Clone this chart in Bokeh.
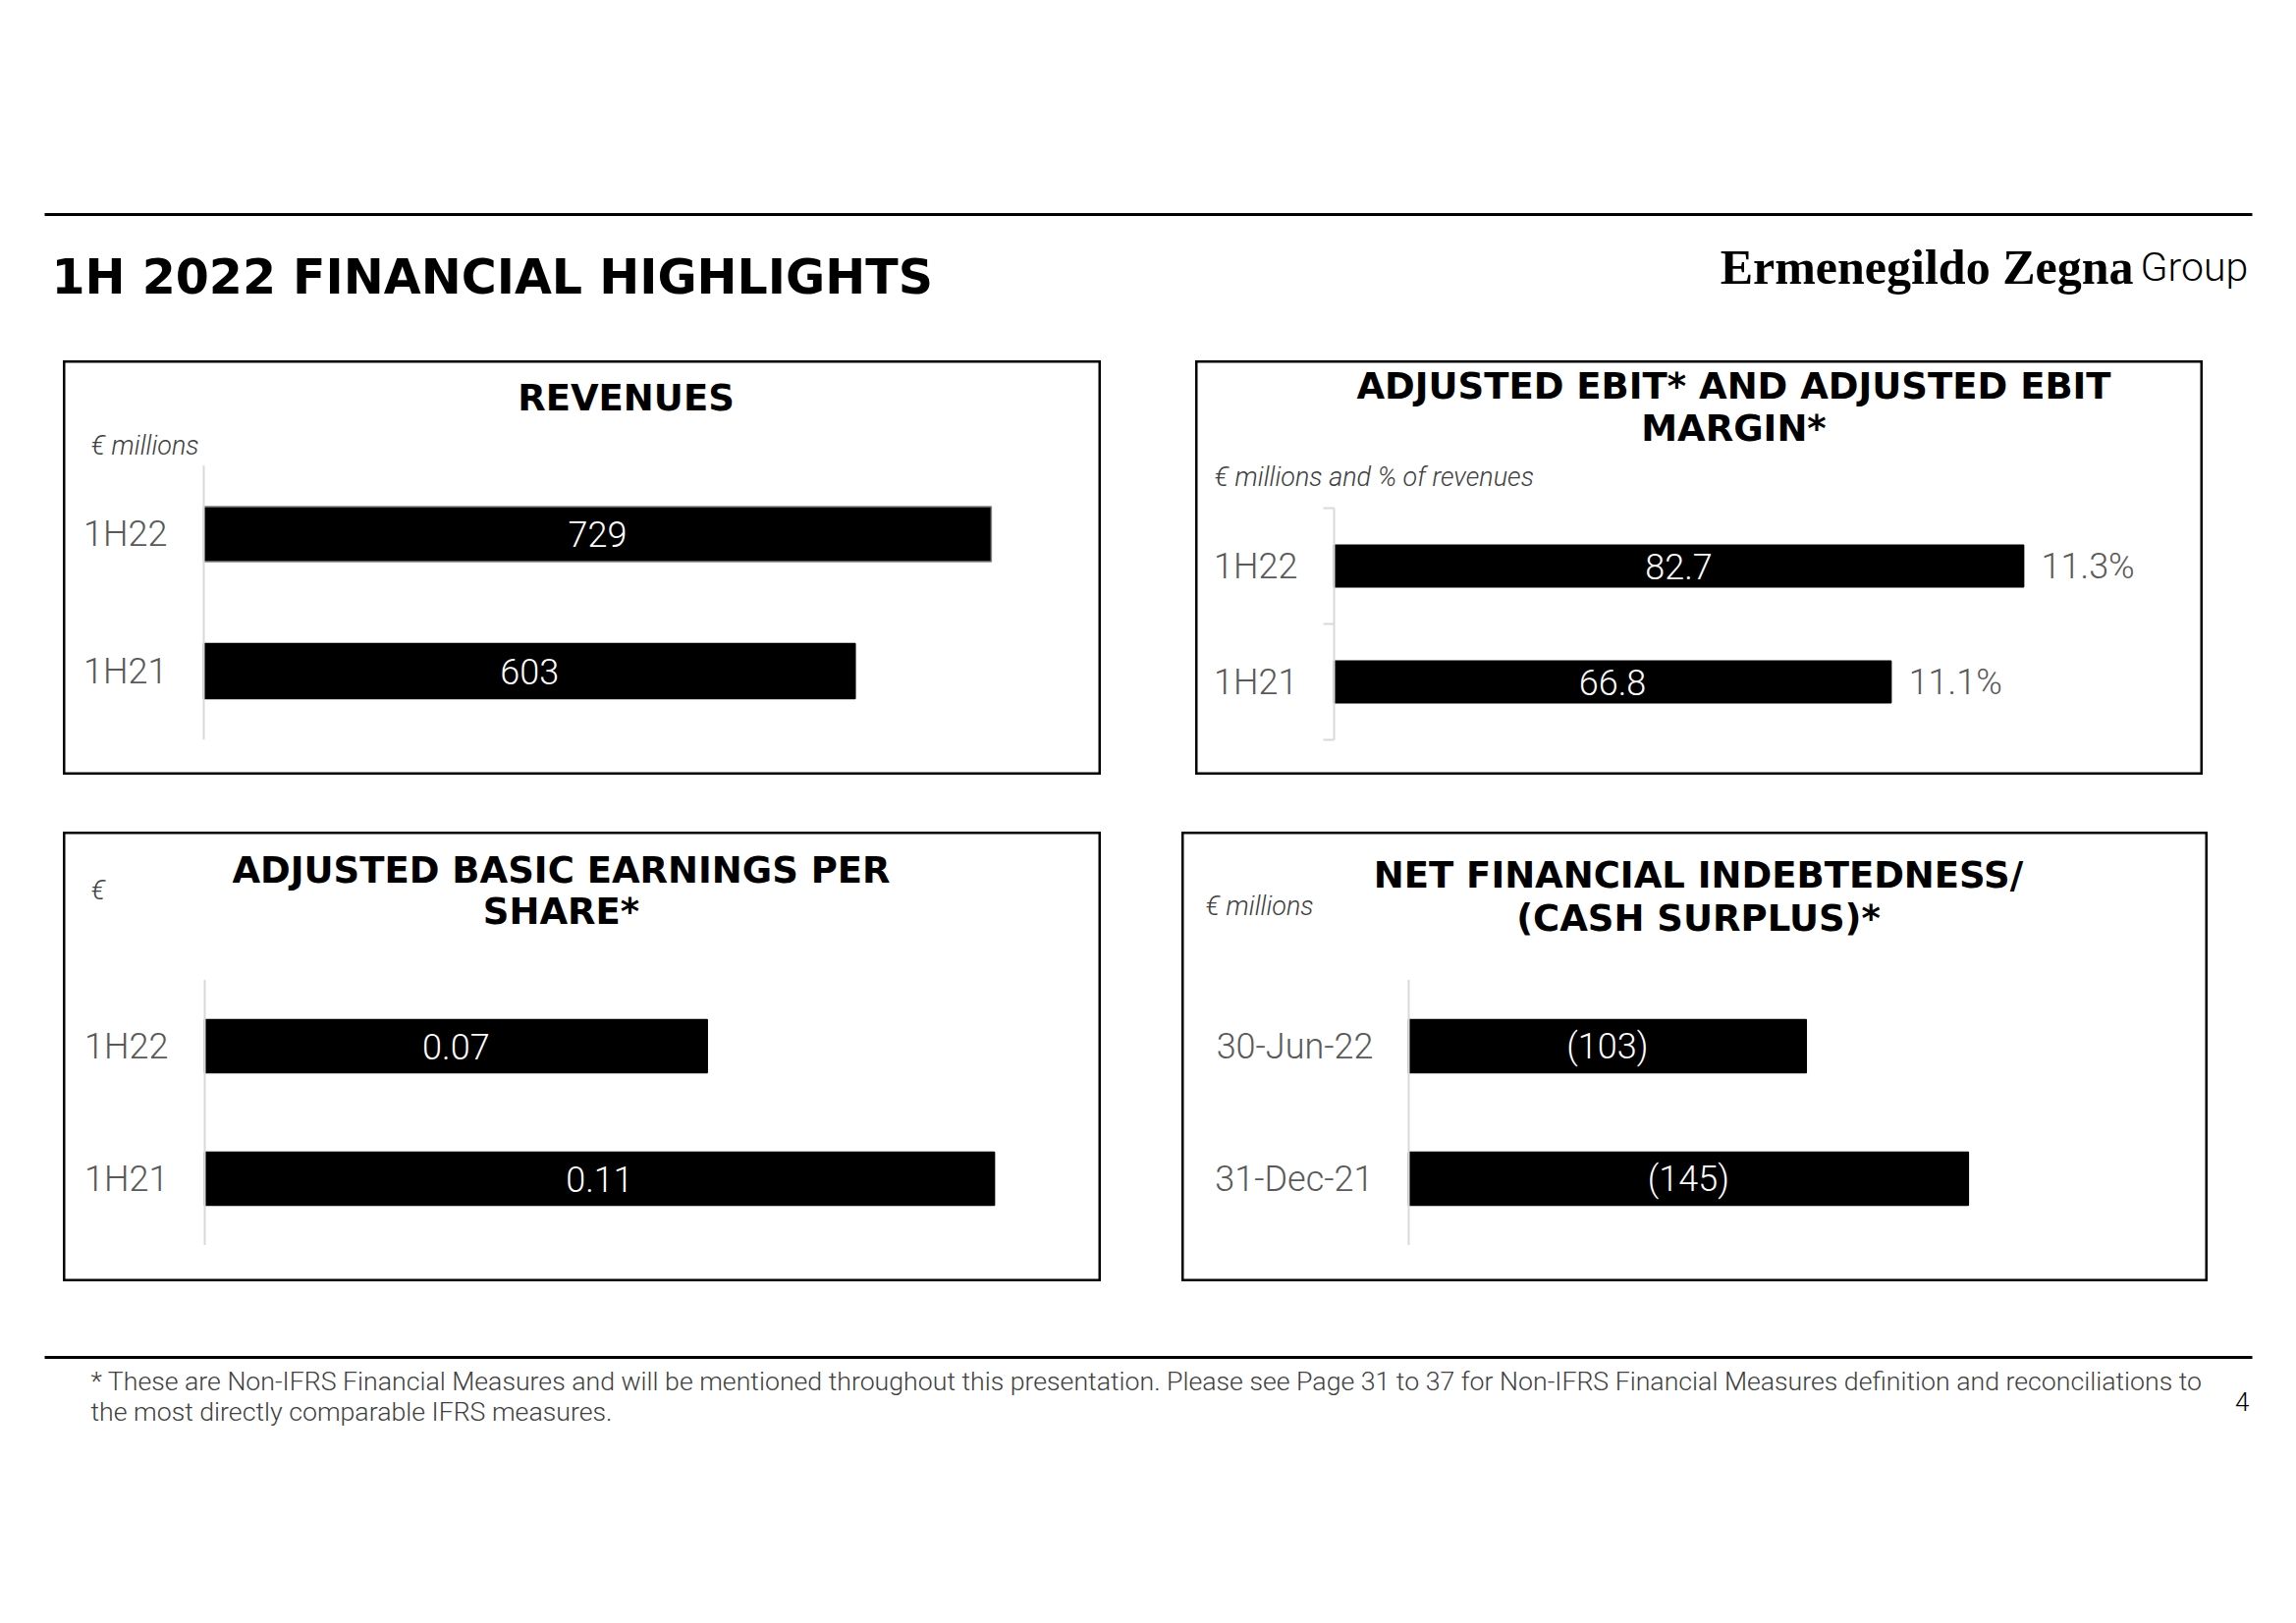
from bokeh.plotting import figure
from bokeh.models import ColumnDataSource, Range1d, Spacer
from bokeh.layouts import column, row
from bokeh.embed import file_html
from bokeh.resources import INLINE
from bokeh.core.properties import value

# ---------------- data ----------------
rev_periods = ["1H22", "1H21"]
rev_values = [729, 603]

ebit_periods = ["1H22", "1H21"]
ebit_values = [82.7, 66.8]
ebit_margins = [11.3, 11.1]

eps_periods = ["1H22", "1H21"]
eps_values = [0.07, 0.11]

nfi_dates = ["30-Jun-22", "31-Dec-21"]
nfi_values = [-103, -145]   # cash surplus, shown in brackets

# ---------------- styles ----------------
LIGHT = "Roboto Light"
BOLD = "DejaVu Sans"
AXIS_GRAY = "#d9d9d9"
LABEL_GRAY = "#595959"
TEXT_DARK = "#404040"


def page_fig(w, h):
    f = figure(width=w, height=h, output_backend="svg", toolbar_location=None,
               x_range=Range1d(0, w), y_range=Range1d(h, 0),
               x_axis_location=None, y_axis_location=None,
               min_border=0, outline_line_color=None)
    f.grid.visible = False
    f.background_fill_color = "white"
    f.border_fill_color = "white"
    return f


class Panel:
    """A boxed chart panel. The plot frame is the whole panel; the value axis starts at
    pixel x0 and categories are spaced `band` pixels apart starting at pixel c0."""

    def __init__(self, w, h, x0, ppu, c0, band):
        self.x0, self.ppu, self.c0, self.band = x0, ppu, c0, band
        f = figure(width=w, height=h, output_backend="svg", toolbar_location=None,
                   x_range=Range1d(-x0 / ppu, (w - x0) / ppu),
                   y_range=Range1d((h - c0) / band, -c0 / band),
                   x_axis_location=None, y_axis_location=None, min_border=0)
        f.grid.visible = False
        f.background_fill_color = "white"
        f.border_fill_color = "white"
        f.outline_line_color = "black"
        f.outline_line_width = 4
        self.f = f

    def dx(self, px):
        return (px - self.x0) / self.ppu

    def dy(self, py):
        return (py - self.c0) / self.band

    def title(self, lines, cx, ys):
        self.f.text(x=[self.dx(cx)] * len(lines), y=[self.dy(y) for y in ys], text=lines,
                    text_font=value(BOLD), text_font_style="bold", text_font_size="37px",
                    text_align="center", text_baseline="middle", text_color="black")

    def unit(self, text, lx, y):
        self.f.text(x=[self.dx(lx)], y=[self.dy(y)], text=[text], text_font=value(LIGHT),
                    text_font_style="italic", text_font_size="27px", text_align="left",
                    text_baseline="middle", text_color=TEXT_DARK)

    def bars(self, cats, vals, labels, height, line_colors=None):
        n = len(cats)
        src = ColumnDataSource(dict(pos=list(range(n)), cat=cats, v=vals,
                                    mid=[v / 2 for v in vals], lab=labels,
                                    lc=line_colors or ["black"] * n))
        self.f.hbar(y="pos", left=0, right="v", height=height, source=src,
                    fill_color="black", line_color="lc", line_width=1.5)
        self.f.text(x="mid", y="pos", text="lab", source=src, text_font=value(LIGHT),
                    text_font_size="36px", text_color="white", text_align="center",
                    text_baseline="middle")
        return src

    def cat_axis(self, cats, standoff, boundary_ticks=False):
        n = len(cats)
        self.f.segment(x0=[0], y0=[-0.5], x1=[0], y1=[n - 0.5], line_color=AXIS_GRAY, line_width=2)
        if boundary_ticks:
            bnds = [k - 0.5 for k in range(n + 1)]
            self.f.segment(x0=[0] * len(bnds), y0=bnds, x1=[-11 / self.ppu] * len(bnds), y1=bnds,
                           line_color=AXIS_GRAY, line_width=2)
        self.f.text(x=[0] * n, y=list(range(n)), text=cats, x_offset=-standoff,
                    text_font=value(LIGHT), text_font_size="36px", text_color=LABEL_GRAY,
                    text_align="right", text_baseline="middle")


# ---------------- header ----------------
hdr = page_fig(2338, 367)
hdr.segment(x0=[45], y0=[218], x1=[2293], y1=[218], line_width=3, line_color="black")
hdr.text(x=[52], y=[282], text=["1H 2022 FINANCIAL HIGHLIGHTS"], text_font=value(BOLD),
         text_font_style="bold", text_font_size="49px", text_baseline="middle",
         text_align="left", text_color="black")
hdr.text(x=[2172], y=[271], text=["Ermenegildo Zegna"], text_font=value("Liberation Serif"),
         text_font_style="bold", text_font_size="50px", text_baseline="middle",
         text_align="right", text_color="black")
hdr.text(x=[2179], y=[271], text=["Group"], text_font=value(LIGHT),
         text_font_size="41px", text_baseline="middle", text_align="left", text_color="black")

# ---------------- panel 1: revenues ----------------
P1 = Panel(1057, 422, x0=143, ppu=1.1, c0=176.5, band=139.5)
P1.bars(rev_periods, rev_values, [f"{v:.0f}" for v in rev_values], 0.4,
        line_colors=["#7f7f7f", "black"])
P1.cat_axis(rev_periods, 37)
P1.title(["REVENUES"], 573, [38])
P1.unit("\u20ac millions", 28, 86)

# ---------------- panel 2: adjusted EBIT ----------------
P2 = Panel(1026, 422, x0=141, ppu=8.49, c0=209, band=118)
src2 = P2.bars(ebit_periods, ebit_values, [f"{v:.1f}" for v in ebit_values], 0.36)
src2.data["mlab"] = [f"{m:.1f}%" for m in ebit_margins]
P2.f.text(x="v", y="pos", text="mlab", source=src2, text_font=value(LIGHT), text_font_size="36px",
          text_color=LABEL_GRAY, text_align="left", text_baseline="middle", x_offset=18)
P2.cat_axis(ebit_periods, 37, boundary_ticks=True)
P2.title(["ADJUSTED EBIT* AND ADJUSTED EBIT", "MARGIN*"], 548, [26, 69])
P2.unit("\u20ac millions and % of revenues", 19, 118)

# ---------------- panel 3: EPS ----------------
P3 = Panel(1057, 458, x0=144, ppu=7310, c0=218, band=135)
P3.bars(eps_periods, eps_values, [f"{v:.2f}" for v in eps_values], 0.4)
P3.cat_axis(eps_periods, 37)
P3.title(["ADJUSTED BASIC EARNINGS PER", "SHARE*"], 507, [39, 81])
P3.unit("\u20ac", 28, 59)

# ---------------- panel 4: net financial indebtedness ----------------
P4 = Panel(1045, 458, x0=231, ppu=3.93, c0=218, band=135)
P4.bars(nfi_dates, [abs(v) for v in nfi_values],
        [f"({abs(v):.0f})" if v < 0 else f"{v:.0f}" for v in nfi_values], 0.4)
P4.cat_axis(nfi_dates, 36)
P4.title(["NET FINANCIAL INDEBTEDNESS/", "(CASH SURPLUS)*"], 526, [44, 88])
P4.unit("\u20ac millions", 24, 75)

# ---------------- footer ----------------
ftr = page_fig(2338, 348)
ftr.segment(x0=[45], y0=[77], x1=[2293], y1=[77], line_width=3, line_color="black")
ftr.text(x=[92, 92], y=[101, 132],
         text=["* These are Non-IFRS Financial Measures and will be mentioned throughout this presentation. "
               "Please see Page 31 to 37 for Non-IFRS Financial Measures definition and reconciliations to",
               "the most directly comparable IFRS measures."],
         text_font=value(LIGHT), text_font_size="26.7px", text_color=TEXT_DARK,
         text_align="left", text_baseline="middle")
ftr.text(x=[2290], y=[122], text=["4"], text_font=value(LIGHT), text_font_size="26px",
         text_color="black", text_align="right", text_baseline="middle")

layout = column(
    hdr,
    row(Spacer(width=64, height=422), P1.f, Spacer(width=96, height=422), P2.f),
    Spacer(width=2338, height=58),
    row(Spacer(width=64, height=458), P3.f, Spacer(width=82, height=458), P4.f),
    ftr,
)

open("out.html", "w").write(file_html(layout, INLINE))
